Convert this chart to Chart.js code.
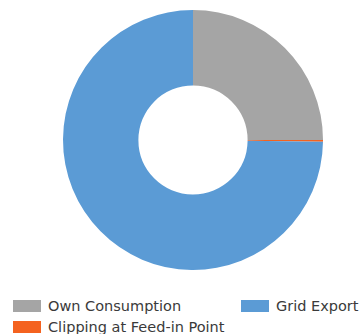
<!DOCTYPE html>
<html>
<head>
<meta charset="utf-8">
<script src="https://cdn.jsdelivr.net/npm/chart.js@4/dist/chart.umd.min.js"></script>
<style>
    html, body { margin: 0; padding: 0; background: #fff; }
    .wrap { position: relative; width: 363px; height: 334px; overflow: hidden; }
    .chart-box { position: absolute; left: 0; top: 0; width: 363px; height: 280px; }
    #legend {
        position: absolute; left: 13px; top: 295px;
        display: grid; grid-template-columns: 228px auto; grid-template-rows: 21px 21px;
        grid-auto-flow: column;
        font-family: "DejaVu Sans", sans-serif; font-size: 14.5px; color: #3a3a3a;
    }
    #legend .item { display: flex; align-items: center; white-space: nowrap; }
    #legend .swatch { width: 28px; height: 12px; margin-right: 7px; flex: none; }
</style>
</head>
<body>
<div class="wrap">
    <div class="chart-box"><canvas id="energyChart"></canvas></div>
    <div id="legend"></div>
</div>
<script>
// energy split, in drawing order (clockwise from the top)
const labels = ['Own Consumption', 'Clipping at Feed-in Point', 'Grid Export'];
const shares = [25, 0.2, 74.8];
const colors = ['#a5a5a5', '#f4621f', '#5b9bd5'];

// legend rendered as html, filled column by column
const htmlLegend = {
    id: 'htmlLegend',
    afterUpdate(chart) {
        const box = document.getElementById('legend');
        box.innerHTML = '';
        chart.options.plugins.legend.labels.generateLabels(chart).forEach(item => {
            const el = document.createElement('div');
            el.className = 'item';
            const sw = document.createElement('span');
            sw.className = 'swatch';
            sw.style.background = item.fillStyle;
            const txt = document.createElement('span');
            txt.textContent = item.text;
            el.appendChild(sw);
            el.appendChild(txt);
            box.appendChild(el);
        });
    }
};

const ctx = document.getElementById('energyChart').getContext('2d');
new Chart(ctx, {
    type: 'doughnut',
    data: {
        labels: labels,
        datasets: [{
            data: shares,
            backgroundColor: colors,
            borderWidth: 0
        }]
    },
    options: {
        responsive: true,
        maintainAspectRatio: false,
        animation: false,
        cutout: '42%',
        layout: { padding: { top: 10, bottom: 10, left: 23, right: 0 } },
        plugins: {
            legend: { display: false },
            tooltip: { enabled: false }
        }
    },
    plugins: [htmlLegend]
});
</script>
</body>
</html>
